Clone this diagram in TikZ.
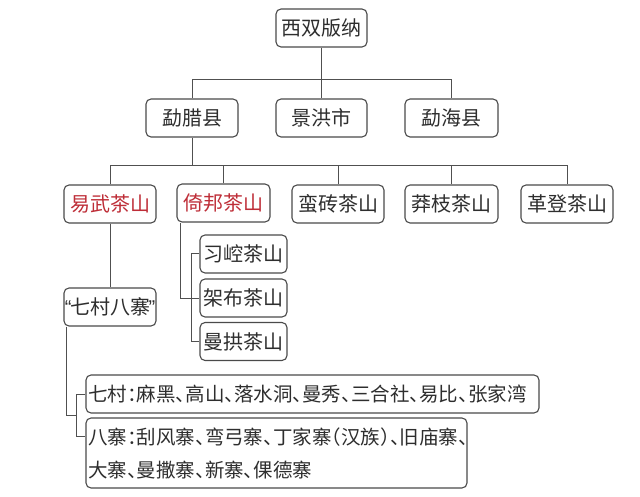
\documentclass[tikz,border=0pt]{standalone}
\usepackage{fontspec}
\newfontfamily\cjk{Noto Sans CJK SC}
\newfontfamily\cjkh[RawFeature=+halt]{Noto Sans CJK SC}
\newfontfamily\lat{Liberation Sans}
\usetikzlibrary{calc}
\definecolor{txtcol}{HTML}{2E2E2E}
\definecolor{redcol}{HTML}{BE2D37}
\definecolor{boxcol}{HTML}{4A4A4A}
\definecolor{linecol}{HTML}{505050}
\tikzset{
  box/.style={draw=boxcol, line width=1.1pt, rounded corners=5pt,
    minimum height=38pt, minimum width=92pt, inner sep=0pt, text=txtcol,
    font=\cjk\fontsize{20pt}{23pt}\selectfont},
  redbox/.style={box, text=redcol},
  smallbox/.style={box, minimum width=87pt},
  listbox/.style={box, align=left, inner xsep=2pt,
    font=\cjkh\fontsize{19.5pt}{33pt}\selectfont},
  conn/.style={draw=linecol, line width=1pt}
}
\begin{document}
\begin{tikzpicture}[x=1pt,y=-1pt]
\useasboundingbox (0,0) rectangle (640,497);
\fill[white] (0,0) rectangle (640,497);
% level 1
\node[box, minimum width=91pt] (xsbn) at (321.5,28) {西双版纳};
% level 2
\node[box] (mla) at (192,118) {勐腊县};
\node[box, minimum width=91pt] (jh) at (321.5,118) {景洪市};
\node[box, minimum width=93pt] (mh) at (451.5,118) {勐海县};
% level 3
\node[redbox] (yw) at (110,204) {易武茶山};
\node[redbox, minimum width=93pt] (yb) at (223.5,203) {倚邦茶山};
\node[box] (mz) at (338,204) {蛮砖茶山};
\node[box, minimum width=93pt] (mzz) at (451.5,204) {莽枝茶山};
\node[box] (gd) at (567,204) {革登茶山};
% children of yibang
\node[smallbox] (xk) at (243.5,254) {习崆茶山};
\node[smallbox] (jb) at (243.5,298) {架布茶山};
\node[smallbox] (mg) at (243.5,341.5) {曼拱茶山};
% qicun bazhai
\node[box] (qcbz) at (110,307) {{\lat“}\kern-1.5pt七村八寨\kern-1.5pt{\lat”}};
\node[listbox, text width=449pt] (qc) at (312.5,394)
  {七村：麻黑、高山、落水洞、曼秀、三合社、易比、张家湾};
\node[listbox, text width=377pt, minimum height=70pt] (bz) at (276.5,453)
  {八寨：刮风寨、弯弓寨、丁家寨（汉族）、旧庙寨、\\大寨、曼撒寨、新寨、倮德寨};
% junction coordinates
\coordinate (j1) at (322,80);
\coordinate (j2) at (192,166);
\coordinate (j3) at (77,415);
% connectors level 1-2
\draw[conn] (xsbn.south) -- (jh.north);
\draw[conn] (mla.north) -- (mla.north |- j1) -- (mh.north |- j1) -- (mh.north);
% connectors level 2-3
\draw[conn] (mla.south) -- (j2);
\draw[conn] (yw.north) -- (yw.north |- j2) -- (gd.north |- j2) -- (gd.north);
\draw[conn] (yb.north) -- (yb.north |- j2);
\draw[conn] (mz.north) -- (mz.north |- j2);
\draw[conn] (mzz.north) -- (mzz.north |- j2);
% yibang children
\draw[conn] ($(yb.south west)+(4pt,0)$) |- (jb.west);
\draw[conn] (xk.west) -- ++(-8pt,0) |- (mg.west);
% yiwu -> qicun bazhai
\draw[conn] (yw.south) -- (qcbz.north);
\draw[conn] ($(qcbz.south west)+(3pt,0)$) |- (j3);
\draw[conn] (qc.west) -- ++(-9pt,0) -- ($(bz.north west)+(-9pt,-19pt)$) -- ++(9pt,0);
\end{tikzpicture}
\end{document}
